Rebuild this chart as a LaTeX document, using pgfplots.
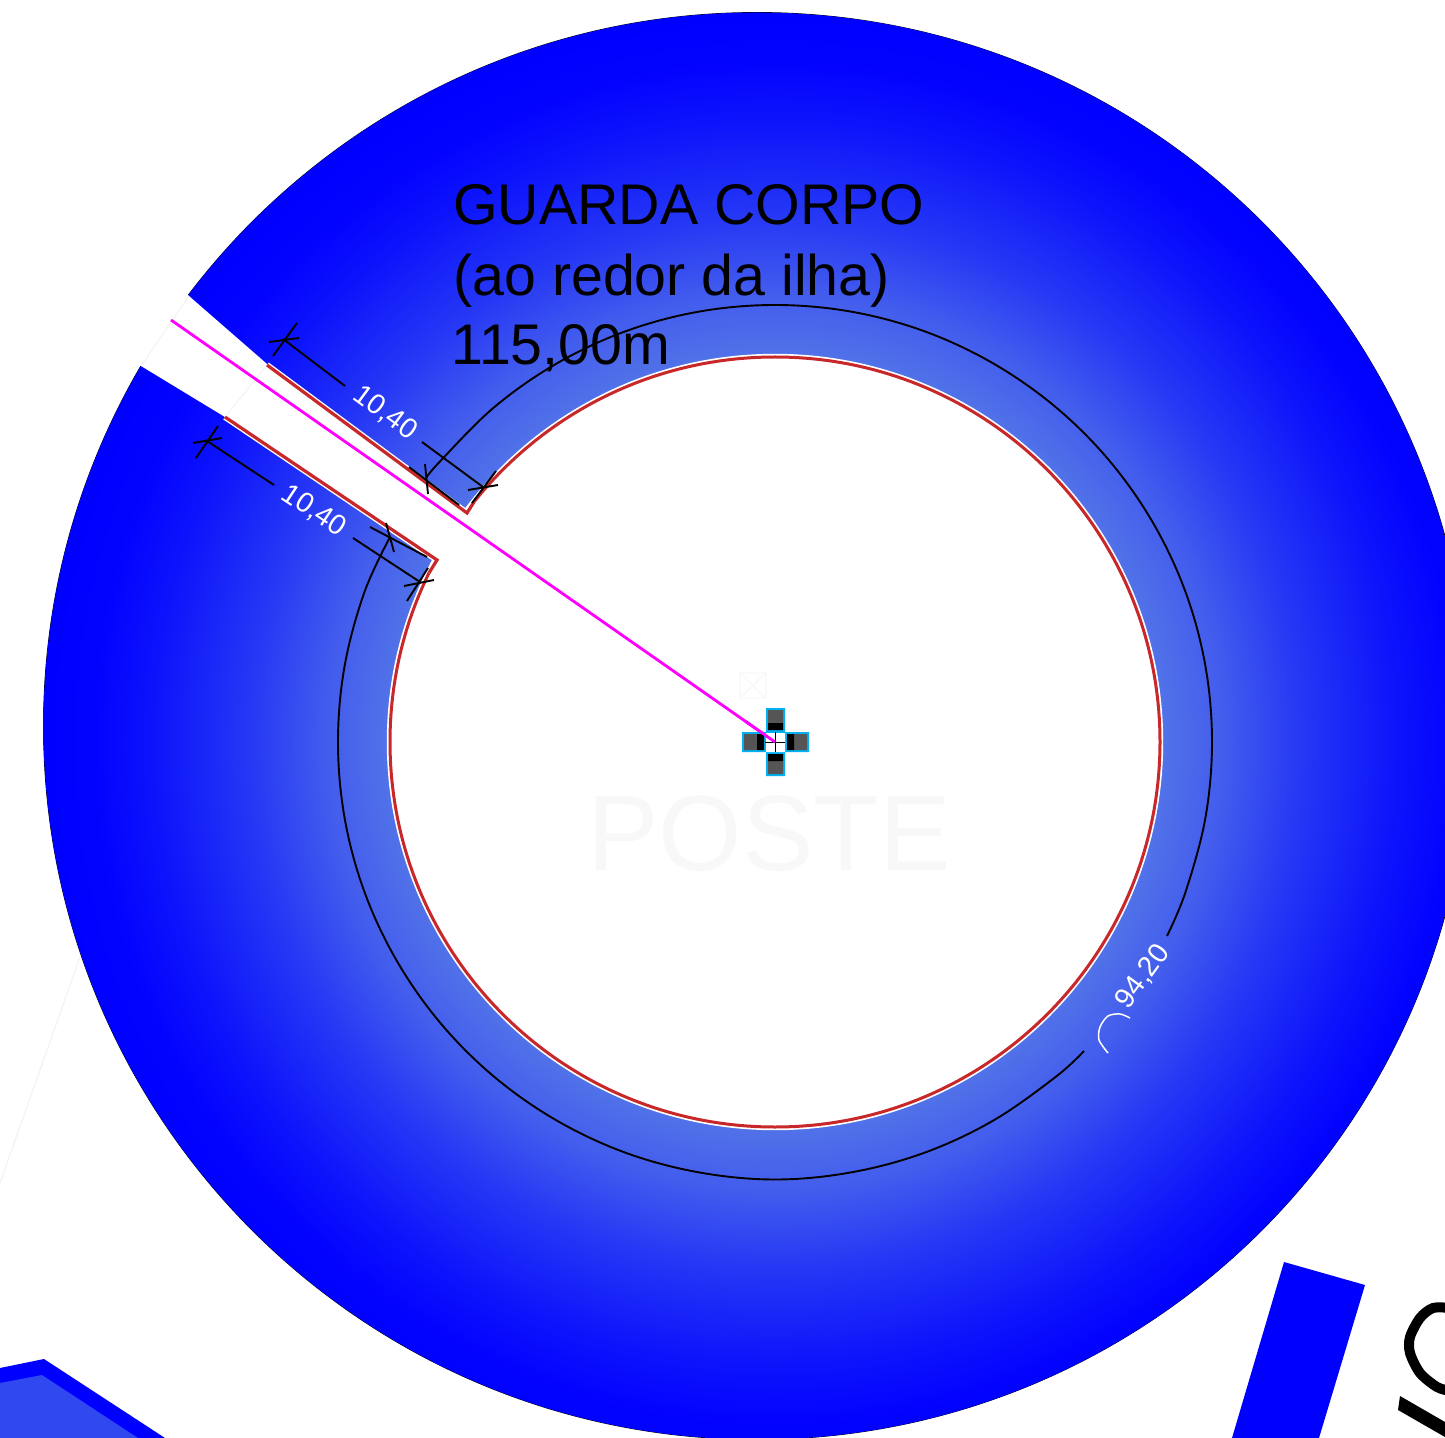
\documentclass[border=0pt]{standalone}
\usepackage{pgfplots}
\pgfplotsset{compat=1.18}
\usepackage{fontspec}
\setmainfont{Liberation Sans}

\definecolor{guardared}{RGB}{200,40,42}
\definecolor{markcyan}{RGB}{0,176,240}
\definecolor{markgray}{RGB}{85,85,85}
\definecolor{faint}{RGB}{243,243,246}
\definecolor{ghost}{RGB}{248,248,248}
\definecolor{slab}{RGB}{48,72,240}
\definecolor{rosa}{RGB}{255,0,255}

% stops are r/750*25bp, r in pixels of the reference, measured from the post
\pgfdeclareradialshading{ilha}{\pgfpoint{0bp}{0bp}}{%
  rgb(0bp)=(0.32,0.45,0.91);
  rgb(12.83bp)=(0.32,0.45,0.91);
  rgb(15bp)=(0.26,0.36,0.93);
  rgb(17.5bp)=(0.15,0.22,0.96);
  rgb(20.67bp)=(0.05,0.08,0.985);
  rgb(22.67bp)=(0.01,0.01,1);
  rgb(24.33bp)=(0,0,1);
  rgb(50bp)=(0,0,1)}
% disc centred on the data point, glow centred on the post (18px right, 16px down)
\pgfdeclareplotmark{ilhadisc}{%
  \begin{scope}
    \clip (0,0) circle (\pgfplotmarksize);
    \shade[shading=ilha] (9pt,-8pt) circle (375pt);
  \end{scope}}

\tikzset{
  dim/.style={black, line width=0.95pt},
  dimtext/.style={text=white, font=\fontsize{14.2}{14.2}\selectfont, inner sep=0pt},
  bigtext/.style={anchor=base west, inner sep=0pt, font=\fontsize{28.65}{28.65}\selectfont},
}

\begin{document}
\begin{tikzpicture}
\useasboundingbox (0,0) rectangle (722.5pt,719pt);
\begin{axis}[
  at={(0,0)}, anchor=south west,
  scale only axis, width=722.5pt, height=719pt,
  xmin=0, xmax=1445, ymin=0, ymax=1438,
  y dir=reverse, hide axis, clip mode=individual,
]
% island disc
\addplot[only marks, mark=ilhadisc, mark size=356.75pt] coordinates {(757,726)};
% hole
\addplot[only marks, mark=*, mark size=192.5pt, mark options={draw=white, line width=3.2pt, fill=white}] coordinates {(775,742)};
\addplot[only marks, mark=o, mark size=192.5pt, mark options={draw=guardared, line width=1.5pt}] coordinates {(775,742)};
% access slot
\addplot[fill=white, draw=none] coordinates {(189,296) (267,364) (467,513) (775,742) (437,560) (225,417) (141,366) (80,330) (140,250) (189,296)};
\addplot[faint, line width=0.5pt] coordinates {(189,296) (141,366)};
\addplot[faint, line width=0.5pt] coordinates {(267,365) (225,417)};
\addplot[faint, line width=0.6pt] coordinates {(80,957) (0,1183)};
% guard rail
\addplot[white, line width=3pt] coordinates {(267,365) (467,513) (474,502)};
\addplot[white, line width=3pt] coordinates {(225,417) (437,560) (429,573)};
\addplot[guardared, line width=1.6pt, line join=miter] coordinates {(267,365) (467,513) (474,502)};
\addplot[guardared, line width=1.6pt, line join=miter] coordinates {(225,417) (437,560) (429,573)};
% radius
\addplot[rosa, line width=1.4pt] coordinates {(171,320) (775,742)};

% curved dimension 94,20
\addplot[dim, smooth, tension=0.6] coordinates {(426,478) (440.3,461.1) (494.1,407.3) (556.5,363.6) (625.5,331.3) (699.1,311.6) (775,305) (850.9,311.6) (924.5,331.3) (993.5,363.6) (1055.9,407.3) (1109.7,461.1) (1153.4,523.5) (1185.7,592.5) (1205.4,666.1) (1212,742) (1205.4,817.9) (1185.7,891.5) (1167,936)};
\addplot[dim, smooth, tension=0.6] coordinates {(1084,1051) (1055.9,1076.7) (993.5,1120.4) (924.5,1152.7) (850.9,1172.4) (775,1179.5) (699.1,1172.4) (625.5,1152.7) (556.5,1120.4) (494.1,1076.7) (440.3,1022.9) (396.6,960.5) (364.3,891.5) (344.6,817.9) (338,742) (344.6,666.1) (364.3,592.5) (390,537)};
\addplot[white, line width=0.75pt, smooth] coordinates {(1130,1018) (1120,1014) (1108,1016) (1100,1027) (1099,1040) (1108,1053)};
\node[dimtext, rotate=54] at (axis cs:1143,977) {94,20};

% upper 10,40
\addplot[dim] coordinates {(283,339) (345,386)};
\addplot[dim] coordinates {(422,442) (483,487)};
\addplot[dim] coordinates {(297,323) (273,356)};
\addplot[dim] coordinates {(269,342) (299,338)};
\addplot[dim] coordinates {(496,471) (472,503)};
\addplot[dim] coordinates {(468,490) (498,485)};
\addplot[dim] coordinates {(409,467) (459,505)};
\addplot[dim] coordinates {(425,464) (428,494)};
\node[dimtext, rotate=-36.5] at (axis cs:385,413) {10,40};

% lower 10,40
\addplot[dim] coordinates {(207,441) (274,485)};
\addplot[dim] coordinates {(353,538) (420,582)};
\addplot[dim] coordinates {(218,426) (196,458)};
\addplot[dim] coordinates {(193,443) (222,438)};
\addplot[dim] coordinates {(428,568) (407,601)};
\addplot[dim] coordinates {(404,586) (434,580)};
\addplot[dim] coordinates {(370,527) (427,557)};
\addplot[dim] coordinates {(386,523) (394,552)};
\node[dimtext, rotate=-33.5] at (axis cs:314,511) {10,40};

% post symbol
\addplot[ghost, line width=0.6pt] coordinates {(740,673) (766,673) (766,698) (740,698) (740,673) (766,698)};
\addplot[ghost, line width=0.6pt] coordinates {(766,673) (740,698)};
\node[anchor=base, text=ghost, inner sep=0pt, font=\fontsize{53.6}{53.6}\selectfont] at (axis cs:769,870) {POSTE};

\addplot[fill=markcyan, draw=none] coordinates {(766,708) (785,708) (785,732) (809,732) (809,752) (785,752) (785,776) (766,776) (766,752) (742,752) (742,732) (766,732) (766,708)};
\addplot[fill=markgray, draw=none] coordinates {(768,710) (783,710) (783,723) (768,723) (768,710)};
\addplot[fill=black, draw=none] coordinates {(768,723) (783,723) (783,730) (768,730) (768,723)};
\addplot[fill=markgray, draw=none] coordinates {(768,761) (783,761) (783,774) (768,774) (768,761)};
\addplot[fill=black, draw=none] coordinates {(768,754) (783,754) (783,761) (768,761) (768,754)};
\addplot[fill=markgray, draw=none] coordinates {(744,734) (757,734) (757,750) (744,750) (744,734)};
\addplot[fill=black, draw=none] coordinates {(757,734) (764,734) (764,750) (757,750) (757,734)};
\addplot[fill=markgray, draw=none] coordinates {(794,734) (807,734) (807,750) (794,750) (794,734)};
\addplot[fill=black, draw=none] coordinates {(787,734) (794,734) (794,750) (787,750) (787,734)};
\addplot[fill=white, draw=none] coordinates {(766,733) (785,733) (785,752) (766,752) (766,733)};
\addplot[black, line width=0.5pt] coordinates {(765,742) (785,742)};
\addplot[black, line width=0.5pt] coordinates {(775,732) (775,752)};
\addplot[rosa, line width=1.4pt] coordinates {(745,721) (775,742)};

% title
\node[bigtext] at (axis cs:453,225) {GUARDA CORPO};
\node[bigtext] at (axis cs:453,296) {(ao redor da ilha)};
\node[bigtext] at (axis cs:451,365) {115,00m};

% neighbouring shapes, cut by the frame
\addplot[fill=blue, draw=none] coordinates {(1284,1262) (1365,1285) (1319,1438) (1232,1438) (1284,1262)};
\addplot[fill=blue, draw=none] coordinates {(0,1368) (44,1359) (165,1438) (0,1438) (0,1368)};
\addplot[fill=slab, draw=none] coordinates {(0,1383) (42,1375) (138,1438) (0,1438) (0,1383)};
\addplot[black, line width=5pt, smooth] coordinates {(1450,1308) (1433,1308) (1420,1318) (1410,1337) (1410,1353) (1420,1373) (1437,1387) (1450,1391)};
\addplot[fill=black, draw=none] coordinates {(1400,1396) (1398,1410) (1445,1437) (1445,1422) (1400,1396)};
\end{axis}
\end{tikzpicture}
\end{document}
